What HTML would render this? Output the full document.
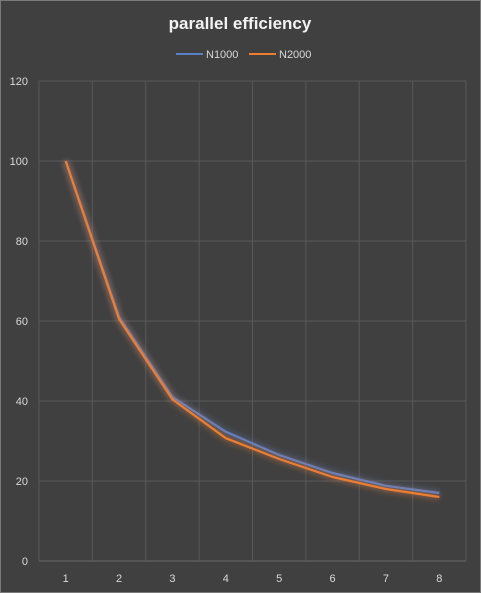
<!DOCTYPE html>
<html><head><meta charset="utf-8"><style>
body{margin:0;background:#404040;}
svg{display:block;font-family:"Liberation Sans",sans-serif;}
</style></head><body>
<svg id="chart" width="481" height="593">
<defs>
<filter id="glowB" x="-20%" y="-20%" width="140%" height="140%"><feGaussianBlur stdDeviation="3"/></filter>
</defs>
<rect x="0.5" y="0.5" width="480" height="592" fill="#404040" stroke="#7a7a7a"/>
<text x="240" y="29" text-anchor="middle" fill="#f2f2f2" font-size="17" font-weight="bold">parallel efficiency</text>
<g>
<g><line x1="176" y1="54" x2="203" y2="54" stroke="#5b7fc9" stroke-width="2"/><text x="206" y="58" fill="#d9d9d9" font-size="11">N1000</text></g>
<g><line x1="249" y1="54" x2="276" y2="54" stroke="#ed7d31" stroke-width="2"/><text x="279" y="58" fill="#d9d9d9" font-size="11">N2000</text></g>
</g>
<g id="grid"></g><g id="series"></g><g id="axes"></g>
</svg>
<script>
const categories=[1,2,3,4,5,6,7,8];
const n1000=[100,61,41,32.3,26.5,22,18.8,17];
const n2000=[100,60.5,40.4,30.7,25.5,21,18,16];
const yTicks=[0,20,40,60,80,100,120];
const NS="http://www.w3.org/2000/svg";
const x0=39,x1=466,yBot=561,yTop=81,yMax=120;
const step=(x1-x0)/categories.length;
function xs(i){return x0+step*(i+0.5);}
function ys(v){return yBot-(v/yMax)*(yBot-yTop);}
function mk(tag,attrs,parent){const e=document.createElementNS(NS,tag);for(const k in attrs)e.setAttribute(k,attrs[k]);parent.appendChild(e);return e;}
const grid=document.getElementById('grid'),axes=document.getElementById('axes'),ser=document.getElementById('series');
yTicks.forEach(t=>{
 const l=mk('line',{x1:x0,x2:x1,y1:ys(t),y2:ys(t),stroke:t===0?'#6a6a6a':'#585858','stroke-width':1},grid);
 
 
 const tx=mk('text',{x:28,y:ys(t)+4,'text-anchor':'end',fill:'#d9d9d9','font-size':11},axes);
 tx.textContent=t;
 
 
});
for(let i=0;i<=categories.length;i++){
 const l=mk('line',{x1:x0+step*i,x2:x0+step*i,y1:yTop,y2:yBot,stroke:'#585858','stroke-width':1},grid);
 
 
}
categories.forEach((c,i)=>{
 const tx=mk('text',{x:xs(i),y:582,'text-anchor':'middle',fill:'#d9d9d9','font-size':11},axes);
 tx.textContent=c;
 
 
});
function drawLine(vals,color,name){
 const pts=vals.map((v,i)=>xs(i)+','+ys(v)).join(' ');
 const g=mk('polyline',{points:pts,fill:'none',stroke:color,'stroke-width':6,'stroke-opacity':0.35,filter:'url(#glowB)'},ser);
 
 
 const p=mk('polyline',{points:pts,fill:'none',stroke:color,'stroke-width':2.2,'stroke-linejoin':'round'},ser);
 
 
}
drawLine(n1000,'#5b7fc9','n1000');
drawLine(n2000,'#ed7d31','n2000');
</script>
</body></html>
